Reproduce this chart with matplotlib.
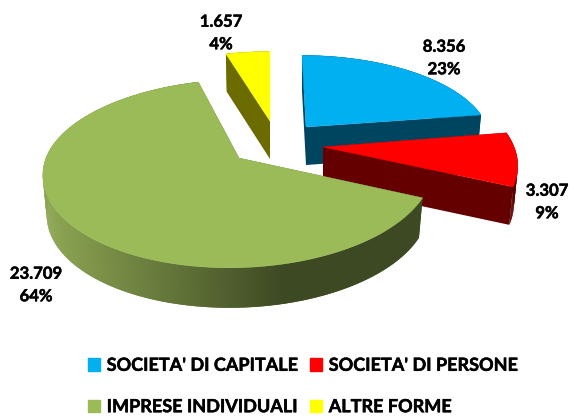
"""3D looking exploded pie of company types, projected by hand because ax.pie has no perspective."""

import matplotlib
matplotlib.use('Agg')
import matplotlib.pyplot as plt
import matplotlib.patheffects as pe
from matplotlib.colors import to_rgb
from matplotlib.patches import Polygon, Patch
import numpy as np

# Data
categories = ["SOCIETA' DI CAPITALE", "SOCIETA' DI PERSONE", "IMPRESE INDIVIDUALI", "ALTRE FORME"]
values = [8356, 3307, 23709, 1657]

# Styles
top_colors = ['#00b0f0', '#ff0000', '#9bbb59', '#ffff00']
cut_colors = ['#004560', '#640000', '#3f4c23', '#6b6b00']
wall_left = ['#004f6e', '#6e0000', '#8ca552', '#6b6b00']
wall_right = ['#004560', '#5a0000', '#3d4923', '#6b6b00']
apex_x = [306, 323, 239, 270]
apex_y = [127, 147, 158, 121]
shrink_x = [0.93, 0.98, 0.99, 0.92]
shrink_back = [0.855, 1.0, 0.94, 0.83]
skew = [0.055, 0.12, -0.09, 0.0]
depth = [38, 38, 40, 38]
label_x = [444, 547, 36, 221]
label_y = [58, 202, 285, 33]

RX = 195
RY = 95
VIEW = 7.43
BOLD = [pe.withStroke(linewidth=0.35, foreground='black')]


def project(angle, i):
    # angle in degrees clockwise from north, perspective shrinks the back of the disc
    t = np.radians(angle)
    px = np.sin(t)
    py = -np.cos(t)
    s = VIEW / (VIEW - py)
    dy = RY * py * s * np.where(py < 0, shrink_back[i], 1.0)
    dx = shrink_x[i] * RX * px * s + skew[i] * dy
    return apex_x[i] + dx, apex_y[i] + dy


def draw_slice(ax, i, a0, a1):
    cx, cy, d = apex_x[i], apex_y[i], depth[i]
    angles = np.linspace(a0, a1, max(int(a1 - a0) * 2, 8))
    xs, ys = project(angles, i)
    # the bottom rim is a little further from the viewer
    xb = cx + (xs - cx) * 0.98
    yb = ys + d
    # cut faces
    for j in (0, -1):
        face = [(cx, cy), (xs[j], ys[j]), (xb[j], yb[j]), (cx, cy + d)]
        ax.add_patch(Polygon(face, fc=cut_colors[i], ec='none'))
    # outer wall, shaded from left to right, quads overlap to hide seams
    left = np.array(to_rgb(wall_left[i]))
    right = np.array(to_rgb(wall_right[i]))
    for j in range(len(xs) - 2):
        f = np.clip((xs[j] - 50) / 235, 0, 1)
        c = left + (right - left) * f
        k = j + 2
        quad = [(xs[j], ys[j]), (xs[k], ys[k]), (xb[k], yb[k]), (xb[j], yb[j])]
        ax.add_patch(Polygon(quad, fc=c, ec='none'))
    # top
    top = [(cx, cy)] + list(zip(xs, ys))
    ax.add_patch(Polygon(top, fc=top_colors[i], ec=top_colors[i], lw=0.3))


def main():
    plt.rcParams['font.family'] = ['Lato', 'DejaVu Sans']
    fig = plt.figure(figsize=(5.69, 4.16), dpi=100)
    ax = fig.add_axes([0, 0, 1, 1])
    ax.set_xlim(0, 569)
    ax.set_ylim(416, 0)
    ax.axis('off')

    total = sum(values)
    edges = np.concatenate([[0], np.cumsum(values)]) / total * 360

    # back to front
    for i in [3, 0, 1, 2]:
        draw_slice(ax, i, edges[i], edges[i + 1])

    for i, v in enumerate(values):
        txt = f"{v:,}".replace(',', '.') + f"\n{round(v / total * 100)}%"
        ax.text(label_x[i], label_y[i], txt, ha='center', va='center', fontsize=12,
                fontweight='bold', color='black', linespacing=1.5, path_effects=BOLD)

    # legend fills by column
    handles = [Patch(color=top_colors[i], label=categories[i]) for i in [0, 2, 1, 3]]
    leg = ax.legend(handles=handles, ncol=2, frameon=False, loc='center',
                    bbox_to_anchor=(303 / 569, 1 - 386 / 416),
                    prop={'weight': 'bold', 'size': 13}, handlelength=0.67, handleheight=0.67,
                    handletextpad=0.35, columnspacing=0.7, labelspacing=1.35, borderpad=0)
    for t in leg.get_texts():
        t.set_path_effects(BOLD)

    fig.savefig('out.png', dpi=100)


if __name__ == "__main__":
    main()
